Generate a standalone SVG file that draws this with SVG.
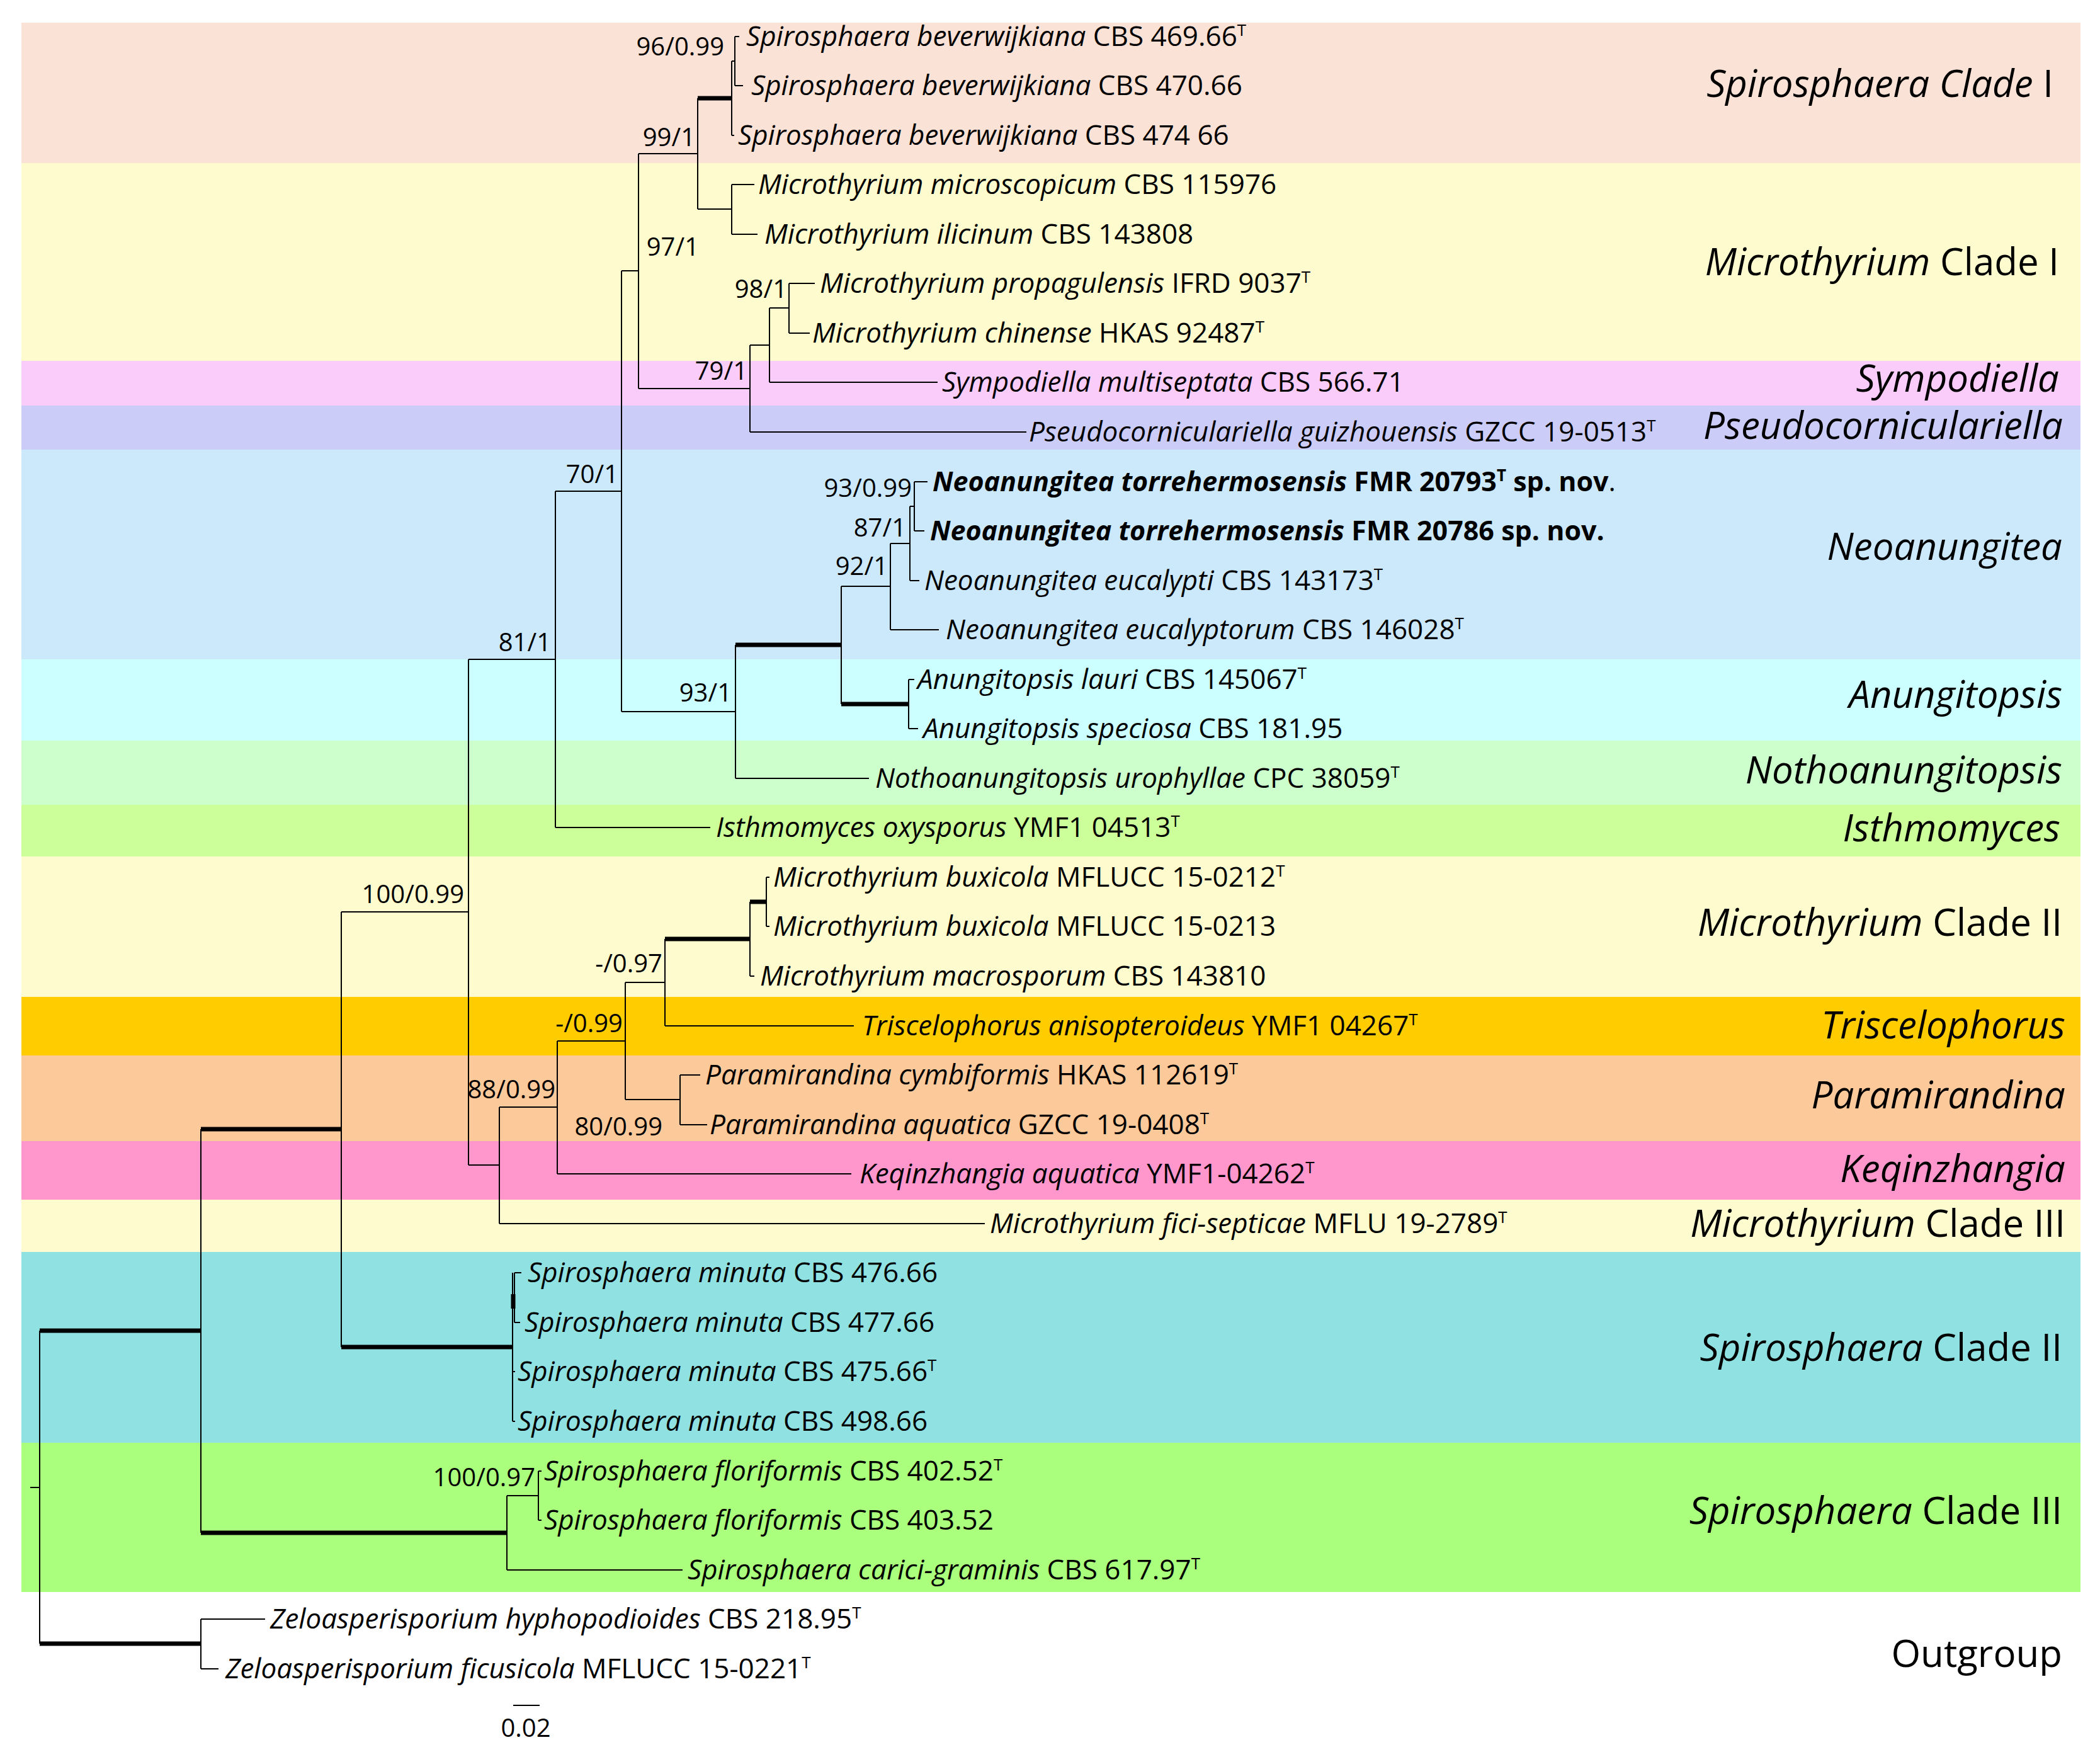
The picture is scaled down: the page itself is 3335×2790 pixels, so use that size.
<svg xmlns="http://www.w3.org/2000/svg" width="3335" height="2790" viewBox="0 0 3335 2790">
<style>
text{font-family:"Open Sans","Liberation Sans",sans-serif;fill:#000}
.tip{font-size:44px}
.i{font-style:italic}
.b{font-weight:bold;font-size:43px}
.sup{font-size:26px}
.sv{font-size:40px;text-anchor:end}
.cl{font-size:60px;text-anchor:end}
.br{stroke:#000;stroke-width:2;fill:none}
.bk{stroke:#000;stroke-width:7;fill:none}
</style>
<rect width="3335" height="2790" fill="#fff"/>
<g id="bands">
<g id="clade-spiro1"><rect x="34" y="36" width="3270" height="223" fill="#FAE2D6"/><text class="cl" x="3261" y="154"><tspan class="i">Spirosphaera Clade</tspan> I</text></g>
<g id="clade-micro1"><rect x="34" y="259" width="3270" height="314" fill="#FEFCCE"/><text class="cl" x="3270" y="437"><tspan class="i">Microthyrium</tspan> Clade I</text></g>
<g id="clade-sympodiella"><rect x="34" y="573" width="3270" height="71" fill="#FACCFA"/><text class="cl i" x="3270" y="622">Sympodiella</text></g>
<g id="clade-pseudo"><rect x="34" y="644" width="3270" height="70" fill="#CCCCF8"/><text class="cl i" x="3276" y="697">Pseudocorniculariella</text></g>
<g id="clade-neoanungitea"><rect x="34" y="714" width="3270" height="333" fill="#CCE9FB"/><text class="cl i" x="3275" y="889">Neoanungitea</text></g>
<g id="clade-anungitopsis"><rect x="34" y="1047" width="3270" height="129" fill="#CCFFFF"/><text class="cl i" x="3275" y="1124">Anungitopsis</text></g>
<g id="clade-notho"><rect x="34" y="1176" width="3270" height="102" fill="#CCFFCC"/><text class="cl i" x="3275" y="1244">Nothoanungitopsis</text></g>
<g id="clade-isthmo"><rect x="34" y="1278" width="3270" height="82" fill="#CCFF99"/><text class="cl i" x="3272" y="1336">Isthmomyces</text></g>
<g id="clade-micro2"><rect x="34" y="1360" width="3270" height="223" fill="#FEFCCE"/><text class="cl" x="3275" y="1486"><tspan class="i">Microthyrium</tspan> Clade II</text></g>
<g id="clade-trisc"><rect x="34" y="1583" width="3270" height="93" fill="#FFCC00"/><text class="cl i" x="3280" y="1649">Triscelophorus</text></g>
<g id="clade-paramir"><rect x="34" y="1676" width="3270" height="136" fill="#FBC99A"/><text class="cl i" x="3280" y="1760">Paramirandina</text></g>
<g id="clade-keqin"><rect x="34" y="1812" width="3270" height="93" fill="#FF96CC"/><text class="cl i" x="3280" y="1877">Keqinzhangia</text></g>
<g id="clade-micro3"><rect x="34" y="1905" width="3270" height="83" fill="#FEFCCE"/><text class="cl" x="3280" y="1964"><tspan class="i">Microthyrium</tspan> Clade III</text></g>
<g id="clade-spiro2"><rect x="34" y="1988" width="3270" height="303" fill="#90E2E2"/><text class="cl" x="3275" y="2161"><tspan class="i">Spirosphaera</tspan> Clade II</text></g>
<g id="clade-spiro3"><rect x="34" y="2291" width="3270" height="237" fill="#AAFF7D"/><text class="cl" x="3275" y="2420"><tspan class="i">Spirosphaera</tspan> Clade III</text></g>
<g id="clade-outgroup"><text class="cl" x="3275" y="2647">Outgroup</text></g>
</g>
<g id="connectors">
<path class="br" d="M1167 58V136M1162 97V215M1162 293V372M1108 156V332M1253 450V529M1222 489V607M1191 548V686M1014 244V617M1452 765V843M1445 804V922M1414 863V1000M1443 1079V1157M1336 931V1118M1168 1024V1236M987 430V1130M882 780V1314M1217 1393V1471M1191 1432V1550M1056 1491V1629M1080 1707V1786M993 1560V1746M885 1653V1864M793 1758V1943M744 1047V1850M814 2021V2257M817 2021V2100M542 1448V2139M855 2336V2414M805 2375V2493M319 1793V2434M319 2571V2650M63 2113V2610"/>
<path class="br" d="M1162 97H1167M1167 58H1174M1167 136H1180M1162 215H1166M1162 293H1198M1162 372H1203M1108 332H1162M1014 244H1108M1014 617H1191M1253 450H1294M1253 529H1286M1222 489H1253M1191 548H1222M1222 607H1489M1191 686H1630M987 430H1014M1452 765H1473M1452 843H1468M1445 804H1452M1445 922H1460M1414 863H1445M1414 1000H1491M1336 931H1414M1443 1079H1452M1443 1157H1458M1168 1236H1380M987 1130H1168M882 780H987M882 1314H1128M744 1047H882M1217 1393H1222M1217 1471H1222M1191 1550H1198M1056 1629H1356M993 1560H1056M1080 1707H1112M1080 1786H1123M993 1746H1080M885 1653H993M885 1864H1352M793 1758H885M793 1943H1564M744 1850H793M542 1448H744M817 2021H828M817 2100H826M814 2178H818M814 2257H818M814 2061H817M855 2336H860M855 2414H860M805 2375H855M805 2493H1084M319 2571H421M319 2650H347M48 2362H63"/>
<path class="bk" d="M1108 156H1162M1168 1024H1336M1336 1118H1443M1191 1432H1217M1056 1491H1191M542 2139H814M319 1793H542M63 2113H319M319 2434H805M63 2610H319M815 2055V2078"/>
</g>
<g id="supports">
<text class="sv" x="1150" y="88">96/0.99</text>
<text class="sv" x="1104" y="232">99/1</text>
<text class="sv" x="1110" y="406">97/1</text>
<text class="sv" x="1250" y="473">98/1</text>
<text class="sv" x="1187" y="603">79/1</text>
<text class="sv" x="982" y="767">70/1</text>
<text class="sv" x="875" y="1034">81/1</text>
<text class="sv" x="1448" y="789">93/0.99</text>
<text class="sv" x="1439" y="852">87/1</text>
<text class="sv" x="1410" y="913">92/1</text>
<text class="sv" x="1162" y="1114">93/1</text>
<text class="sv" x="737" y="1434">100/0.99</text>
<text class="sv" x="1052" y="1544">-/0.97</text>
<text class="sv" x="989" y="1639">-/0.99</text>
<text class="sv" x="882" y="1744">88/0.99</text>
<text class="sv" x="1052" y="1803">80/0.99</text>
<text class="sv" x="850" y="2360">100/0.97</text>
</g>
<g id="tips">
<g id="t1"><text class="tip" x="1185" y="73"><tspan class="i">Spirosphaera beverwijkiana</tspan> CBS 469.66<tspan class="sup" dy="-16">T</tspan></text></g>
<g id="t2"><text class="tip" x="1193" y="151"><tspan class="i">Spirosphaera beverwijkiana</tspan> CBS 470.66</text></g>
<g id="t3"><text class="tip" x="1172" y="230"><tspan class="i">Spirosphaera beverwijkiana</tspan> CBS 474 66</text></g>
<g id="t4"><text class="tip" x="1204" y="308"><tspan class="i">Microthyrium microscopicum</tspan> CBS 115976</text></g>
<g id="t5"><text class="tip" x="1214" y="387"><tspan class="i">Microthyrium ilicinum</tspan> CBS 143808</text></g>
<g id="t6"><text class="tip" x="1302" y="465"><tspan class="i">Microthyrium propagulensis</tspan> IFRD 9037<tspan class="sup" dy="-16">T</tspan></text></g>
<g id="t7"><text class="tip" x="1290" y="544"><tspan class="i">Microthyrium chinense</tspan> HKAS 92487<tspan class="sup" dy="-16">T</tspan></text></g>
<g id="t8"><text class="tip" x="1496" y="622"><tspan class="i">Sympodiella multiseptata</tspan> CBS 566.71</text></g>
<g id="t9"><text class="tip" x="1634" y="701"><tspan class="i">Pseudocorniculariella guizhouensis</tspan> GZCC 19-0513<tspan class="sup" dy="-16">T</tspan></text></g>
<g id="t10"><text class="tip b" x="1481" y="780"><tspan class="i">Neoanungitea torrehermosensis</tspan> FMR 20793<tspan class="sup" dy="-16">T</tspan><tspan dy="16"> sp. nov</tspan><tspan style="font-weight:normal">.</tspan></text></g>
<g id="t11"><text class="tip b" x="1477" y="858"><tspan class="i">Neoanungitea torrehermosensis</tspan> FMR 20786 sp. nov.</text></g>
<g id="t12"><text class="tip" x="1468" y="937"><tspan class="i">Neoanungitea eucalypti</tspan> CBS 143173<tspan class="sup" dy="-16">T</tspan></text></g>
<g id="t13"><text class="tip" x="1502" y="1015"><tspan class="i">Neoanungitea eucalyptorum</tspan> CBS 146028<tspan class="sup" dy="-16">T</tspan></text></g>
<g id="t14"><text class="tip" x="1457" y="1094"><tspan class="i">Anungitopsis lauri</tspan> CBS 145067<tspan class="sup" dy="-16">T</tspan></text></g>
<g id="t15"><text class="tip" x="1466" y="1172"><tspan class="i">Anungitopsis speciosa</tspan> CBS 181.95</text></g>
<g id="t16"><text class="tip" x="1390" y="1251"><tspan class="i">Nothoanungitopsis urophyllae</tspan> CPC 38059<tspan class="sup" dy="-16">T</tspan></text></g>
<g id="t17"><text class="tip" x="1137" y="1329"><tspan class="i">Isthmomyces oxysporus</tspan> YMF1 04513<tspan class="sup" dy="-16">T</tspan></text></g>
<g id="t18"><text class="tip" x="1228" y="1408"><tspan class="i">Microthyrium buxicola</tspan> MFLUCC 15-0212<tspan class="sup" dy="-16">T</tspan></text></g>
<g id="t19"><text class="tip" x="1228" y="1486"><tspan class="i">Microthyrium buxicola</tspan> MFLUCC 15-0213</text></g>
<g id="t20"><text class="tip" x="1207" y="1565"><tspan class="i">Microthyrium macrosporum</tspan> CBS 143810</text></g>
<g id="t21"><text class="tip" x="1369" y="1644"><tspan class="i">Triscelophorus anisopteroideus</tspan> YMF1 04267<tspan class="sup" dy="-16">T</tspan></text></g>
<g id="t22"><text class="tip" x="1120" y="1722"><tspan class="i">Paramirandina cymbiformis</tspan> HKAS 112619<tspan class="sup" dy="-16">T</tspan></text></g>
<g id="t23"><text class="tip" x="1127" y="1801"><tspan class="i">Paramirandina aquatica</tspan> GZCC 19-0408<tspan class="sup" dy="-16">T</tspan></text></g>
<g id="t24"><text class="tip" x="1365" y="1879"><tspan class="i">Keqinzhangia aquatica</tspan> YMF1-04262<tspan class="sup" dy="-16">T</tspan></text></g>
<g id="t25"><text class="tip" x="1572" y="1958"><tspan class="i">Microthyrium fici-septicae</tspan> MFLU 19-2789<tspan class="sup" dy="-16">T</tspan></text></g>
<g id="t26"><text class="tip" x="838" y="2036"><tspan class="i">Spirosphaera minuta</tspan> CBS 476.66</text></g>
<g id="t27"><text class="tip" x="833" y="2115"><tspan class="i">Spirosphaera minuta</tspan> CBS 477.66</text></g>
<g id="t28"><text class="tip" x="822" y="2193"><tspan class="i">Spirosphaera minuta</tspan> CBS 475.66<tspan class="sup" dy="-16">T</tspan></text></g>
<g id="t29"><text class="tip" x="822" y="2272"><tspan class="i">Spirosphaera minuta</tspan> CBS 498.66</text></g>
<g id="t30"><text class="tip" x="864" y="2351"><tspan class="i">Spirosphaera floriformis</tspan> CBS 402.52<tspan class="sup" dy="-16">T</tspan></text></g>
<g id="t31"><text class="tip" x="864" y="2429"><tspan class="i">Spirosphaera floriformis</tspan> CBS 403.52</text></g>
<g id="t32"><text class="tip" x="1092" y="2508"><tspan class="i">Spirosphaera carici-graminis</tspan> CBS 617.97<tspan class="sup" dy="-16">T</tspan></text></g>
<g id="t33"><text class="tip" x="429" y="2586"><tspan class="i">Zeloasperisporium hyphopodioides</tspan> CBS 218.95<tspan class="sup" dy="-16">T</tspan></text></g>
<g id="t34"><text class="tip" x="358" y="2665"><tspan class="i">Zeloasperisporium ficusicola</tspan> MFLUCC 15-0221<tspan class="sup" dy="-16">T</tspan></text></g>
</g>
<g id="scalebar">
<path class="br" d="M815 2708H857"/>
<text class="sv" x="835" y="2758" style="text-anchor:middle">0.02</text>
</g>
</svg>
